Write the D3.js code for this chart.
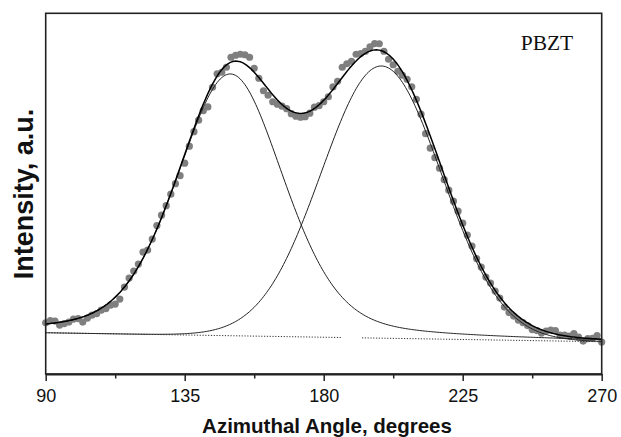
<!DOCTYPE html>
<html>
<head>
<meta charset="utf-8">
<script src="https://cdn.jsdelivr.net/npm/d3@7"></script>
<style>
  body { margin: 0; background: #fff; }
  svg { display: block; }
</style>
</head>
<body>
<div id="chart"></div>
<script>
// measured points (azimuthal angle, intensity in a.u.)
const angles = [
    90, 91.5, 93, 94.5, 96, 97.5, 99, 100.5, 102, 103.5,
    105, 106.5, 108, 109.5, 111, 112.5, 114, 115.5, 117, 118.5,
    120, 121.5, 123, 124.5, 126, 127.5, 129, 130.5, 132, 133.5,
    135, 136.5, 138, 139.5, 141, 142.5, 144, 145.5, 147, 148.5,
    150, 151.5, 153, 154.5, 156, 157.5, 159, 160.5, 162, 163.5,
    165, 166.5, 168, 169.5, 171, 172.5, 174, 175.5, 177, 178.5,
    180, 181.5, 183, 184.5, 186, 187.5, 189, 190.5, 192, 193.5,
    195, 196.5, 198, 199.5, 201, 202.5, 204, 205.5, 207, 208.5,
    210, 211.5, 213, 214.5, 216, 217.5, 219, 220.5, 222, 223.5,
    225, 226.5, 228, 229.5, 231, 232.5, 234, 235.5, 237, 238.5,
    240, 241.5, 243, 244.5, 246, 247.5, 249, 250.5, 252, 253.5,
    255, 256.5, 258, 259.5, 261, 262.5, 264, 265.5, 267, 268.5,
    270
]
const intensities = [
    51.3, 53.5, 53, 49, 50.5, 52, 55, 55.5, 52, 56,
    59, 60.5, 64, 65.5, 69, 70, 75, 87, 96, 103,
    110, 122, 124, 135, 148.5, 159, 168.5, 180, 190.5, 198.5,
    211, 228, 242.5, 254, 263.5, 267.3, 287, 300.5, 302, 307,
    317, 319, 320, 319.5, 317, 306, 296, 283.5, 279, 272.5,
    270, 268, 265.5, 260.5, 258, 257, 257.5, 261, 267, 268.5,
    272.5, 277.5, 287.3, 293, 307, 310.5, 313, 320, 320.7, 323,
    327.5, 330.7, 330.5, 323, 315, 309.5, 303, 299, 295, 287.5,
    275, 260, 240.5, 226, 216.5, 206, 194.5, 184, 173, 163,
    151, 139, 128, 115.5, 107, 97, 91, 83, 76, 67,
    61.5, 58, 54, 51.5, 48.5, 44.5, 43.5, 41, 43, 44,
    43.5, 39, 39, 38, 40.5, 37, 33, 35.5, 35.7, 38.5,
    32
]

// two fitted peaks (pseudo-Voigt) on a linear background
const peakCenters = [149.8, 198.7]
const peakHeights = [262, 272.4]
const peakWidths = [20.5, 22.9]
const peakLorentzMix = [0.3, 0]
const baselineEnds = [41.3, 32.3]
const baselineGap = [185.7, 192.4]

const xTicks = [90, 135, 180, 225, 270]
const xMinorTicks = [112.5, 157.5, 202.5, 247.5]
const sampleLabel = 'PBZT'

const width = 621
const height = 437
const margin = { top: 13.3, right: 19.3, bottom: 63, left: 45.7 }
const fontSans = '"Liberation Sans", Arial, sans-serif'

const x = d3.scaleLinear()
    .domain([90, 270])
    .range([margin.left, width - margin.right])

const y = d3.scaleLinear()
    .domain([0, 361])
    .range([height - margin.bottom, margin.top])

const background = a => baselineEnds[0] + (baselineEnds[1] - baselineEnds[0]) * (a - 90) / 180
const peak = (a, k) => {
    const r2 = ((a - peakCenters[k]) / peakWidths[k]) ** 2
    const m = peakLorentzMix[k]
    return peakHeights[k] * (m / (1 + r2) + (1 - m) * Math.exp(-Math.LN2 * r2))
}

const samples = d3.range(90, 270.001, 0.5)

const svg = d3.select('#chart').append('svg')
    .attr('width', width)
    .attr('height', height)

// data points
svg.append('g')
    .selectAll('circle')
    .data(angles.map((a, i) => [a, intensities[i]]))
    .join('circle')
    .attr('cx', d => x(d[0]))
    .attr('cy', d => y(d[1]))
    .attr('r', 3.6)
    .attr('fill', '#7f7f7f')

const line = d3.line()
    .x(d => x(d[0]))
    .y(d => y(d[1]))

// background (dotted, with the small break)
const bgParts = [
    [90, baselineGap[0]],
    [baselineGap[1], 270]
]
svg.append('g')
    .selectAll('path')
    .data(bgParts)
    .join('path')
    .attr('d', d => line(d.map(a => [a, background(a)])))
    .attr('fill', 'none')
    .attr('stroke', '#333')
    .attr('stroke-width', 1)
    .attr('stroke-dasharray', '1.2,1.6')

// component peaks
svg.append('g')
    .selectAll('path')
    .data([0, 1])
    .join('path')
    .attr('d', k => line(samples.map(a => [a, background(a) + peak(a, k)])))
    .attr('fill', 'none')
    .attr('stroke', '#222')
    .attr('stroke-width', 1)

// total fit
svg.append('path')
    .attr('d', line(samples.map(a => [a, background(a) + peak(a, 0) + peak(a, 1)])))
    .attr('fill', 'none')
    .attr('stroke', '#000')
    .attr('stroke-width', 1.5)

// frame
svg.append('rect')
    .attr('x', margin.left)
    .attr('y', margin.top)
    .attr('width', width - margin.left - margin.right)
    .attr('height', height - margin.top - margin.bottom)
    .attr('fill', 'none')
    .attr('stroke', '#222')
    .attr('stroke-width', 1.6)

const axisY = height - margin.bottom

svg.append('g')
    .attr('transform', `translate(0, ${axisY})`)
    .call(d3.axisBottom(x).tickValues(xMinorTicks).tickSize(4.5).tickFormat(''))
    .call(g => g.select('.domain').remove())
    .call(g => g.selectAll('line').attr('stroke', '#222').attr('stroke-width', 1.5))

svg.append('g')
    .attr('transform', `translate(0, ${axisY})`)
    .call(d3.axisBottom(x).tickValues(xTicks).tickSize(7).tickSizeOuter(0).tickPadding(8.5).tickFormat(d3.format('d')))
    .call(g => g.select('.domain').attr('stroke', '#222').attr('stroke-width', 2.2))
    .call(g => g.selectAll('line').attr('stroke', '#222').attr('stroke-width', 1.5))
    .call(g => g.selectAll('text')
        .attr('fill', '#111')
        .style('font-family', fontSans)
        .style('font-size', '18px'))

// axis titles
svg.append('text')
    .attr('x', 327)
    .attr('y', 432.5)
    .attr('text-anchor', 'middle')
    .style('font-family', fontSans)
    .style('font-weight', 'bold')
    .style('font-size', '20.5px')
    .attr('fill', '#111')
    .text('Azimuthal Angle, degrees')

svg.append('text')
    .attr('transform', 'translate(33, 194) rotate(-90)')
    .attr('text-anchor', 'middle')
    .style('font-family', fontSans)
    .style('font-weight', 'bold')
    .style('font-size', '27px')
    .attr('fill', '#111')
    .text('Intensity, a.u.')

svg.append('text')
    .attr('x', 520.7)
    .attr('y', 50)
    .style('font-family', '"Liberation Serif", "Times New Roman", serif')
    .style('font-size', '21.5px')
    .attr('fill', '#111')
    .text(sampleLabel)
</script>
</body>
</html>
